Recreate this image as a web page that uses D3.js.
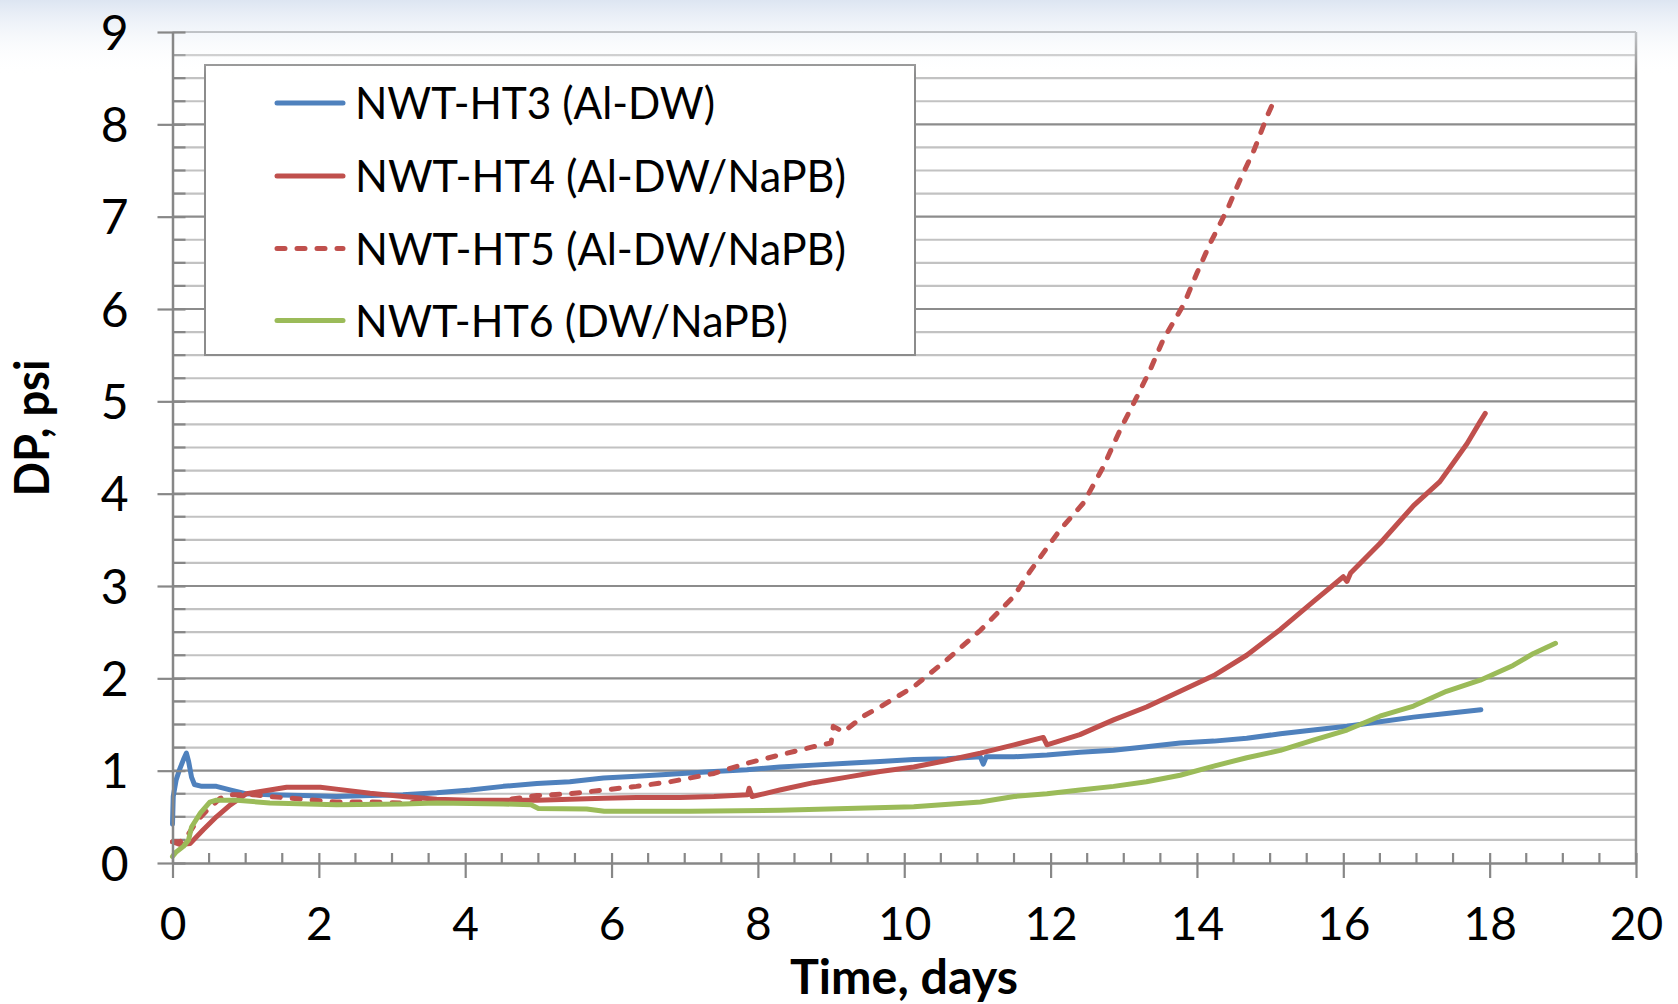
<!DOCTYPE html>
<html><head><meta charset="utf-8">
<script src="https://cdn.jsdelivr.net/npm/d3@7/dist/d3.min.js"></script>
<style>
html,body{margin:0;padding:0;background:#fff;}
svg{display:block;font-family:Lato,"Open Sans",sans-serif;}
</style></head>
<body>
<svg id="chart" width="1678" height="1004"></svg>
<script>
// ---------- data ----------
const seriesNames = ["NWT-HT3 (Al-DW)", "NWT-HT4 (Al-DW/NaPB)", "NWT-HT5 (Al-DW/NaPB)", "NWT-HT6 (DW/NaPB)"];
const seriesColors = ["#4F81BD", "#C0504D", "#C0504D", "#9BBB59"];
const seriesDashed = [false, false, true, false];
const xTicks = [0, 2, 4, 6, 8, 10, 12, 14, 16, 18, 20];
const yTicks = [0, 1, 2, 3, 4, 5, 6, 7, 8, 9];
const xTitle = "Time, days";
const yTitle = "DP, psi";

const ht3 = [[0,0.42],[0.01,0.72],[0.05,0.9],[0.1,1.02],[0.15,1.12],[0.19,1.19],[0.22,1.1],[0.26,0.93],[0.3,0.85],[0.4,0.83],[0.6,0.83],[0.8,0.79],[1.0,0.75],[1.33,0.74],[1.79,0.73],[2.24,0.72],[2.7,0.73],[3.15,0.74],[3.61,0.76],[4.07,0.79],[4.52,0.83],[4.98,0.86],[5.43,0.88],[5.89,0.92],[6.34,0.94],[6.8,0.96],[7.4,0.99],[7.85,1.01],[8.3,1.04],[8.76,1.06],[9.22,1.08],[9.67,1.10],[10.13,1.12],[10.58,1.13],[11.04,1.15],[11.08,1.07],[11.12,1.15],[11.5,1.15],[11.95,1.17],[12.4,1.2],[12.86,1.22],[13.31,1.26],[13.77,1.3],[14.23,1.32],[14.68,1.35],[15.14,1.4],[15.59,1.44],[16.05,1.48],[16.5,1.53],[16.96,1.58],[17.41,1.62],[17.88,1.66]];
const ht4 = [[0,0.23],[0.1,0.2],[0.24,0.21],[0.42,0.36],[0.6,0.5],[0.79,0.63],[1.01,0.75],[1.33,0.79],[1.56,0.82],[2.02,0.82],[2.24,0.8],[2.7,0.755],[3.15,0.72],[3.61,0.69],[4.07,0.68],[4.52,0.68],[4.98,0.68],[5.43,0.69],[5.89,0.7],[6.34,0.71],[6.94,0.71],[7.4,0.72],[7.86,0.74],[7.88,0.81],[7.92,0.72],[8.3,0.79],[8.76,0.87],[9.22,0.93],[9.67,0.99],[10.13,1.04],[10.58,1.11],[11.04,1.19],[11.5,1.28],[11.9,1.36],[11.95,1.28],[12.4,1.39],[12.86,1.55],[13.31,1.69],[13.77,1.86],[14.23,2.03],[14.68,2.25],[15.14,2.53],[15.59,2.83],[16.0,3.1],[16.05,3.05],[16.1,3.14],[16.5,3.46],[16.96,3.87],[17.32,4.13],[17.5,4.33],[17.69,4.54],[17.87,4.78],[17.94,4.87]];
const ht5 = [[0,0.23],[0.1,0.23],[0.19,0.28],[0.33,0.45],[0.47,0.57],[0.65,0.7],[0.79,0.74],[1.1,0.74],[1.33,0.72],[1.79,0.69],[2.24,0.66],[2.7,0.66],[3.15,0.65],[3.61,0.67],[4.07,0.66],[4.52,0.68],[4.98,0.73],[5.43,0.75],[5.89,0.79],[6.34,0.83],[6.8,0.88],[7.4,0.97],[7.85,1.08],[8.3,1.17],[8.76,1.26],[9.0,1.3],[9.03,1.48],[9.17,1.42],[9.44,1.59],[9.67,1.69],[10.13,1.91],[10.58,2.2],[11.04,2.52],[11.5,2.89],[11.72,3.16],[12.13,3.61],[12.45,3.9],[12.72,4.29],[12.95,4.69],[13.18,5.05],[13.36,5.34],[13.54,5.67],[13.82,6.05],[14.0,6.39],[14.18,6.71],[14.41,7.07],[14.59,7.4],[14.78,7.72],[14.96,8.09],[15.05,8.25]];
const ht6 = [[0,0.07],[0.05,0.12],[0.15,0.18],[0.22,0.25],[0.26,0.39],[0.38,0.54],[0.51,0.66],[0.6,0.68],[0.88,0.68],[1.33,0.65],[2.24,0.63],[3.15,0.64],[3.61,0.65],[4.52,0.64],[4.9,0.63],[5.0,0.59],[5.66,0.585],[5.9,0.56],[7.07,0.56],[8.3,0.57],[9.22,0.59],[10.13,0.61],[11.04,0.66],[11.5,0.72],[11.95,0.75],[12.4,0.79],[12.86,0.83],[13.31,0.88],[13.77,0.95],[14.23,1.05],[14.68,1.14],[15.14,1.22],[15.59,1.33],[16.05,1.44],[16.5,1.59],[16.96,1.70],[17.41,1.86],[17.87,1.98],[18.32,2.14],[18.6,2.27],[18.9,2.38]];
const seriesData = [ht3, ht4, ht5, ht6];

// ---------- layout ----------
const svg = d3.select("#chart");
const X0 = 172.5, X1 = 1636, Y0 = 863, Y1 = 32;
const x = d3.scaleLinear().domain([0, 20]).range([X0, X1]);
const y = d3.scaleLinear().domain([0, 9]).range([Y0, Y1]);
const gridMajor = "#8c8c8c", gridMinor = "#c2c2c2", axisCol = "#878787";

// plot background
svg.append("rect").attr("x", X0).attr("y", Y1).attr("width", X1 - X0).attr("height", Y0 - Y1).attr("fill", "#fff");

// minor gridlines (0.25)
const minorY = d3.range(0, 9.001, 0.25).filter(v => Math.abs(v - Math.round(v)) > 1e-6);
svg.append("g").selectAll("line").data(minorY).join("line")
  .attr("x1", X0).attr("x2", X1).attr("y1", d => y(d)).attr("y2", d => y(d))
  .attr("stroke", gridMinor).attr("stroke-width", 2.2);
// major gridlines
svg.append("g").selectAll("line").data(yTicks.filter(v => v > 0)).join("line")
  .attr("x1", X0).attr("x2", X1).attr("y1", d => y(d)).attr("y2", d => y(d))
  .attr("stroke", gridMajor).attr("stroke-width", 2.2);
// right border
svg.append("line").attr("x1", X1).attr("x2", X1).attr("y1", Y1).attr("y2", Y0)
  .attr("stroke", gridMajor).attr("stroke-width", 2.5);

// minor ticks (inside)
svg.append("g").selectAll("line").data(minorY).join("line")
  .attr("x1", X0).attr("x2", X0 + 13).attr("y1", d => y(d)).attr("y2", d => y(d))
  .attr("stroke", axisCol).attr("stroke-width", 2.2);
const minorX = d3.range(0.5, 20, 0.5).filter(v => Math.abs(v / 2 - Math.round(v / 2)) > 1e-6);
svg.append("g").selectAll("line").data(minorX).join("line")
  .attr("x1", d => x(d)).attr("x2", d => x(d)).attr("y1", Y0).attr("y2", Y0 - 10)
  .attr("stroke", axisCol).attr("stroke-width", 2.2);

// series
const line = d3.line().x(d => x(d[0])).y(d => y(d[1]));
const plot = svg.append("g");
seriesData.forEach((data, i) => {
  plot.append("path").datum(data).attr("d", line)
    .attr("fill", "none").attr("stroke", seriesColors[i]).attr("stroke-width", 5)
    .attr("stroke-linejoin", "round").attr("stroke-linecap", "round")
    .attr("stroke-dasharray", seriesDashed[i] ? "8,12" : null);
});

// legend
const lg = svg.append("g");
lg.append("rect").attr("x", 205).attr("y", 65).attr("width", 710).attr("height", 290)
  .attr("fill", "#fff").attr("stroke", gridMajor).attr("stroke-width", 2);
const rowY = [103, 176, 248.5, 320.5];
const textW = [360, 491, 491, 433];
seriesNames.forEach((name, i) => {
  lg.append("line").attr("x1", 277).attr("x2", 343).attr("y1", rowY[i]).attr("y2", rowY[i])
    .attr("stroke", seriesColors[i]).attr("stroke-width", 5).attr("stroke-linecap", "round")
    .attr("stroke-dasharray", seriesDashed[i] ? "8,12" : null);
  lg.append("text").attr("x", 355).attr("y", rowY[i] + 16).attr("font-size", 44).attr("fill", "#000")
    .attr("textLength", textW[i]).attr("lengthAdjust", "spacingAndGlyphs").text(name);
});

// top background tint
const defs = svg.append("defs");
const gr = defs.append("linearGradient").attr("id", "topTint").attr("x1", 0).attr("x2", 0).attr("y1", 0).attr("y2", 1);
gr.append("stop").attr("offset", "0%").attr("stop-color", "#dbe4f1").attr("stop-opacity", 0.95);
gr.append("stop").attr("offset", "100%").attr("stop-color", "#ffffff").attr("stop-opacity", 0);
svg.append("rect").attr("x", 0).attr("y", 0).attr("width", 1678).attr("height", 75)
  .attr("fill", "url(#topTint)").attr("pointer-events", "none");

// axes (drawn above tint so labels stay black)
const yAxis = svg.append("g").attr("transform", `translate(${X0},0)`)
  .call(d3.axisLeft(y).tickValues(yTicks).tickFormat(d3.format("d")).tickSizeOuter(0).tickPadding(0));
yAxis.select(".domain").attr("stroke", axisCol).attr("stroke-width", 2.5);
yAxis.selectAll(".tick line").attr("x1", 13).attr("x2", -15).attr("stroke", axisCol).attr("stroke-width", 2.2);
yAxis.selectAll(".tick text").attr("x", -44).attr("dy", "0.36em")
  .attr("font-size", 48).attr("fill", "#000").attr("font-family", "Lato");

const xAxis = svg.append("g").attr("transform", `translate(0,${Y0})`)
  .call(d3.axisBottom(x).tickValues(xTicks).tickFormat(d3.format("d")).tickSizeOuter(0));
xAxis.select(".domain").attr("stroke", axisCol).attr("stroke-width", 2.5);
xAxis.selectAll(".tick line").attr("y1", -10).attr("y2", 15).attr("stroke", axisCol).attr("stroke-width", 2.2);
xAxis.selectAll(".tick text").attr("y", 77).attr("dy", 0)
  .attr("font-size", 46).attr("fill", "#000").attr("font-family", "Lato");

// axis titles
svg.append("text").attr("x", 904).attr("y", 994).attr("text-anchor", "middle")
  .attr("font-size", 47).attr("font-weight", "bold").attr("fill", "#000").text(xTitle)
  .attr("textLength", 228).attr("lengthAdjust", "spacingAndGlyphs");
svg.append("text").attr("transform", "translate(49,428) rotate(-90)").attr("text-anchor", "middle")
  .attr("font-size", 48).attr("font-weight", "bold").attr("fill", "#000").text(yTitle)
  .attr("textLength", 137).attr("lengthAdjust", "spacingAndGlyphs");
</script>
</body></html>
